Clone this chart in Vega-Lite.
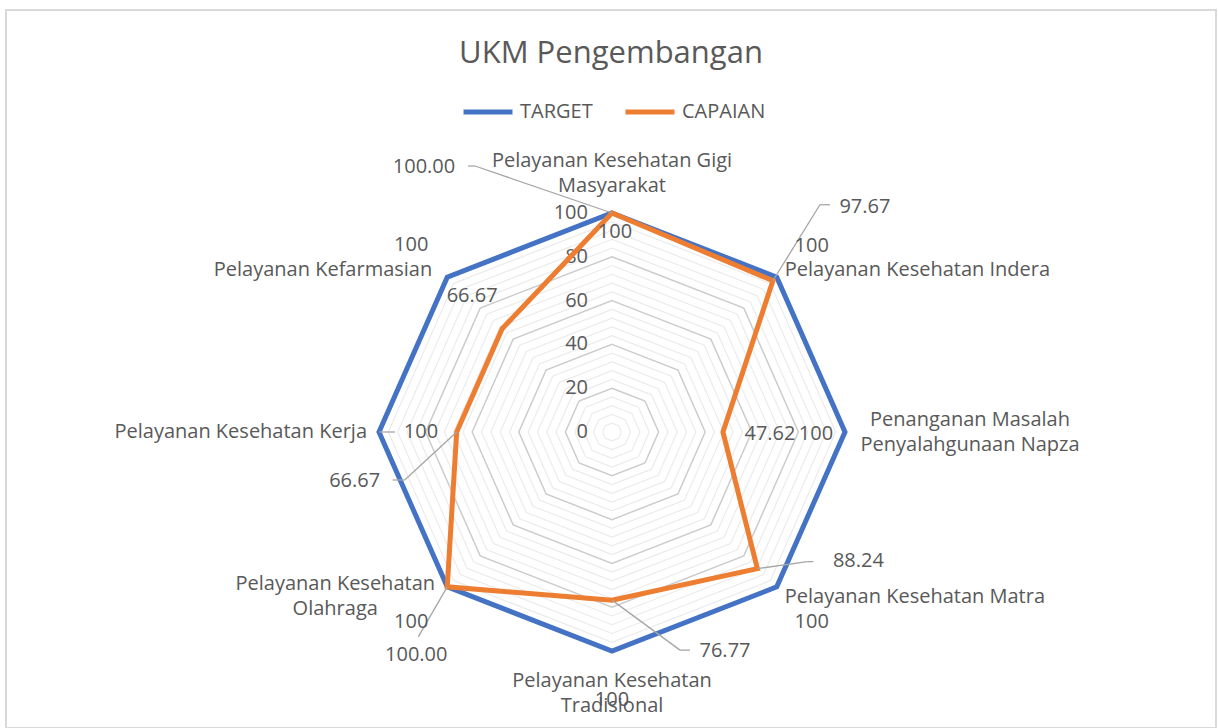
{
  "$schema": "https://vega.github.io/schema/vega-lite/v6.json",
  "width": 1210,
  "height": 718,
  "autosize": {"type": "none"},
  "padding": {"left": 6, "top": 10, "right": 3, "bottom": 0},
  "background": "white",
  "config": {"view": {"stroke": "#d9d9d9", "strokeWidth": 2}, "font": "Open Sans"},
  "title": {"text": "UKM Pengembangan", "font": "Open Sans", "fontSize": 31, "fontWeight": "normal", "color": "#595959", "anchor": "middle", "frame": "group", "offset": -60},
  "datasets": {
    "kategori": [
      {"k": 0, "nama": "Pelayanan Kesehatan Gigi\nMasyarakat", "TARGET": 100, "CAPAIAN": 100.00},
      {"k": 1, "nama": "Pelayanan Kesehatan Indera", "TARGET": 100, "CAPAIAN": 97.67},
      {"k": 2, "nama": "Penanganan Masalah\nPenyalahgunaan Napza", "TARGET": 100, "CAPAIAN": 47.62},
      {"k": 3, "nama": "Pelayanan Kesehatan Matra", "TARGET": 100, "CAPAIAN": 88.24},
      {"k": 4, "nama": "Pelayanan Kesehatan\nTradisional", "TARGET": 100, "CAPAIAN": 76.77},
      {"k": 5, "nama": "Pelayanan Kesehatan\nOlahraga", "TARGET": 100, "CAPAIAN": 100.00},
      {"k": 6, "nama": "Pelayanan Kesehatan Kerja", "TARGET": 100, "CAPAIAN": 66.67},
      {"k": 7, "nama": "Pelayanan Kefarmasian", "TARGET": 100, "CAPAIAN": 66.67}
    ],
    "cincin": [
      {"level": 4, "k": [0,1,2,3,4,5,6,7]}, {"level": 8, "k": [0,1,2,3,4,5,6,7]},
      {"level": 12, "k": [0,1,2,3,4,5,6,7]}, {"level": 16, "k": [0,1,2,3,4,5,6,7]},
      {"level": 20, "k": [0,1,2,3,4,5,6,7]}, {"level": 24, "k": [0,1,2,3,4,5,6,7]},
      {"level": 28, "k": [0,1,2,3,4,5,6,7]}, {"level": 32, "k": [0,1,2,3,4,5,6,7]},
      {"level": 36, "k": [0,1,2,3,4,5,6,7]}, {"level": 40, "k": [0,1,2,3,4,5,6,7]},
      {"level": 44, "k": [0,1,2,3,4,5,6,7]}, {"level": 48, "k": [0,1,2,3,4,5,6,7]},
      {"level": 52, "k": [0,1,2,3,4,5,6,7]}, {"level": 56, "k": [0,1,2,3,4,5,6,7]},
      {"level": 60, "k": [0,1,2,3,4,5,6,7]}, {"level": 64, "k": [0,1,2,3,4,5,6,7]},
      {"level": 68, "k": [0,1,2,3,4,5,6,7]}, {"level": 72, "k": [0,1,2,3,4,5,6,7]},
      {"level": 76, "k": [0,1,2,3,4,5,6,7]}, {"level": 80, "k": [0,1,2,3,4,5,6,7]},
      {"level": 84, "k": [0,1,2,3,4,5,6,7]}, {"level": 88, "k": [0,1,2,3,4,5,6,7]},
      {"level": 92, "k": [0,1,2,3,4,5,6,7]}, {"level": 96, "k": [0,1,2,3,4,5,6,7]},
      {"level": 100, "k": [0,1,2,3,4,5,6,7]}
    ],
    "skala": [{"nilai": 0}, {"nilai": 20}, {"nilai": 40}, {"nilai": 60}, {"nilai": 80}, {"nilai": 100}]
  },
  "encoding": {
    "x": {"field": "px", "type": "quantitative", "scale": {"domain": [-260.09, 259.23], "nice": false, "zero": false}, "axis": null},
    "y": {"field": "py", "type": "quantitative", "scale": {"domain": [-135.16, 192.69], "nice": false, "zero": false}, "axis": null}
  },
  "layer": [
    {
      "data": {"name": "cincin"},
      "transform": [
        {"flatten": ["k"]},
        {"filter": "datum.level % 20 != 0"},
        {"calculate": "datum.k * PI / 4", "as": "theta"},
        {"calculate": "datum.level * sin(datum.theta)", "as": "px"},
        {"calculate": "datum.level * cos(datum.theta)", "as": "py"}
      ],
      "mark": {"type": "line", "interpolate": "linear-closed", "stroke": "#ebebeb", "strokeWidth": 1.2},
      "encoding": {"detail": {"field": "level", "type": "nominal"}, "order": {"field": "k", "type": "quantitative"}}
    },
    {
      "data": {"name": "cincin"},
      "transform": [
        {"flatten": ["k"]},
        {"filter": "datum.level % 20 == 0"},
        {"calculate": "datum.k * PI / 4", "as": "theta"},
        {"calculate": "datum.level * sin(datum.theta)", "as": "px"},
        {"calculate": "datum.level * cos(datum.theta)", "as": "py"}
      ],
      "mark": {"type": "line", "interpolate": "linear-closed", "stroke": "#cccccc", "strokeWidth": 1.5},
      "encoding": {"detail": {"field": "level", "type": "nominal"}, "order": {"field": "k", "type": "quantitative"}}
    },
    {
      "data": {"name": "skala"},
      "transform": [
        {"calculate": "0", "as": "px"},
        {"calculate": "datum.nilai", "as": "py"}
      ],
      "mark": {"type": "text", "align": "right", "baseline": "middle", "dx": -24, "fontSize": 20, "font": "Open Sans", "fill": "#595959"},
      "encoding": {"text": {"field": "nilai", "type": "quantitative", "format": "d"}}
    },
    {
      "data": {"name": "kategori"},
      "transform": [
        {"fold": ["TARGET", "CAPAIAN"], "as": ["seri", "nilai"]},
        {"filter": "datum.seri == 'TARGET'"},
        {"calculate": "datum.k * PI / 4", "as": "theta"},
        {"calculate": "datum.nilai * sin(datum.theta)", "as": "px"},
        {"calculate": "datum.nilai * cos(datum.theta)", "as": "py"}
      ],
      "mark": {"type": "line", "interpolate": "linear-closed", "strokeWidth": 5, "strokeJoin": "miter"},
      "encoding": {
        "color": {
          "field": "seri", "type": "nominal",
          "scale": {"domain": ["TARGET", "CAPAIAN"], "range": ["#4472C4", "#ED7D31"]},
          "legend": {"orient": "none", "legendX": 455, "legendY": 75, "direction": "horizontal", "title": null, "symbolType": "stroke", "symbolStrokeWidth": 5, "symbolSize": 2400, "labelFont": "Open Sans", "labelFontSize": 20, "labelColor": "#595959", "columnPadding": 22, "labelOffset": 5}
        },
        "order": {"field": "k", "type": "quantitative"}
      }
    },
    {
      "data": {"name": "kategori"},
      "transform": [
        {"fold": ["TARGET", "CAPAIAN"], "as": ["seri", "nilai"]},
        {"filter": "datum.seri == 'CAPAIAN'"},
        {"calculate": "datum.k * PI / 4", "as": "theta"},
        {"calculate": "datum.nilai * sin(datum.theta)", "as": "px"},
        {"calculate": "datum.nilai * cos(datum.theta)", "as": "py"}
      ],
      "mark": {"type": "line", "interpolate": "linear-closed", "strokeWidth": 5, "strokeJoin": "miter"},
      "encoding": {
        "color": {"field": "seri", "type": "nominal"},
        "order": {"field": "k", "type": "quantitative"}
      }
    },
    {
      "data": {"name": "kategori"},
      "transform": [
        {"filter": "indexof([0, 1, 3, 4, 5, 6], datum.k) >= 0"},
        {"calculate": "datum.k * PI / 4", "as": "theta"},
        {"calculate": "datum.CAPAIAN * sin(datum.theta)", "as": "px"},
        {"calculate": "datum.CAPAIAN * cos(datum.theta)", "as": "py"}
      ],
      "mark": {
        "type": "rule", "stroke": "#a6a6a6", "strokeWidth": 1.3,
        "x2Offset": {"expr": "[-137, 47, 0, 50, 68, -29, -52, 0][datum.k]"},
        "y2Offset": {"expr": "[-47, -76, 0, -7, 50, 50, 48, 0][datum.k]"}
      },
      "encoding": {"x2": {"field": "px"}, "y2": {"field": "py"}}
    },
    {
      "data": {"name": "kategori"},
      "transform": [
        {"filter": "indexof([0, 1, 3, 4, 6], datum.k) >= 0"},
        {"calculate": "datum.k * PI / 4", "as": "theta"},
        {"calculate": "datum.CAPAIAN * sin(datum.theta)", "as": "px"},
        {"calculate": "datum.CAPAIAN * cos(datum.theta)", "as": "py"}
      ],
      "mark": {
        "type": "rule", "stroke": "#a6a6a6", "strokeWidth": 1.3,
        "xOffset": {"expr": "[-137, 47, 0, 50, 68, 0, -52, 0][datum.k]"},
        "yOffset": {"expr": "[-47, -76, 0, -7, 50, 0, 48, 0][datum.k]"},
        "x2Offset": {"expr": "[-144, 57, 0, 56, 78, 0, -64, 0][datum.k]"},
        "y2Offset": {"expr": "[-47, -76, 0, -7, 50, 0, 48, 0][datum.k]"}
      },
      "encoding": {"x2": {"field": "px"}, "y2": {"field": "py"}}
    },
    {
      "data": {"name": "kategori"},
      "transform": [
        {"filter": "datum.k == 6"},
        {"calculate": "datum.k * PI / 4", "as": "theta"},
        {"calculate": "datum.TARGET * sin(datum.theta)", "as": "px"},
        {"calculate": "datum.TARGET * cos(datum.theta)", "as": "py"}
      ],
      "mark": {"type": "rule", "stroke": "#a6a6a6", "strokeWidth": 1.3, "x2Offset": 16},
      "encoding": {"x2": {"field": "px"}, "y2": {"field": "py"}}
    },
    {
      "data": {"name": "kategori"},
      "transform": [
        {"calculate": "datum.k * PI / 4", "as": "theta"},
        {"calculate": "datum.TARGET * sin(datum.theta)", "as": "px"},
        {"calculate": "datum.TARGET * cos(datum.theta)", "as": "py"}
      ],
      "mark": {
        "type": "text", "font": "Open Sans", "fontSize": 20, "fill": "#595959", "lineBreak": "\n", "lineHeight": 25,
        "align": {"expr": "(datum.k == 1 || datum.k == 3) ? 'left' : ((datum.k == 6 || datum.k == 7) ? 'right' : 'center')"},
        "baseline": {"expr": "datum.k == 0 ? 'bottom' : (datum.k == 4 ? 'top' : 'middle')"},
        "dx": {"expr": "[0, 8, 125, 8, 0, -112, -12, -15][datum.k]"},
        "dy": {"expr": "[-42, -7, -12, 10, 20, -3, 0, -7][datum.k]"}
      },
      "encoding": {"text": {"field": "nama", "type": "nominal"}}
    },
    {
      "data": {"name": "kategori"},
      "transform": [
        {"calculate": "datum.k * PI / 4", "as": "theta"},
        {"calculate": "datum.TARGET * sin(datum.theta)", "as": "px"},
        {"calculate": "datum.TARGET * cos(datum.theta)", "as": "py"}
      ],
      "mark": {
        "type": "text", "font": "Open Sans", "fontSize": 20, "fill": "#595959", "align": "center", "baseline": "middle",
        "dx": {"expr": "[3, 35, -29, 35, 0, -36, 42, -36][datum.k]"},
        "dy": {"expr": "[19, -31, 2, 35, 49, 35, 0, -32][datum.k]"}
      },
      "encoding": {"text": {"field": "TARGET", "type": "quantitative", "format": "d"}}
    },
    {
      "data": {"name": "kategori"},
      "transform": [
        {"calculate": "datum.k * PI / 4", "as": "theta"},
        {"calculate": "datum.CAPAIAN * sin(datum.theta)", "as": "px"},
        {"calculate": "datum.CAPAIAN * cos(datum.theta)", "as": "py"}
      ],
      "mark": {
        "type": "text", "font": "Open Sans", "fontSize": 20, "fill": "#595959", "align": "center", "baseline": "middle",
        "dx": {"expr": "[-188, 92, 47, 101, 113, -31, -102, -30][datum.k]"},
        "dy": {"expr": "[-46, -74, 2, -8, 51, 68, 49, -33][datum.k]"}
      },
      "encoding": {"text": {"field": "CAPAIAN", "type": "quantitative", "format": ".2f"}}
    }
  ]
}
